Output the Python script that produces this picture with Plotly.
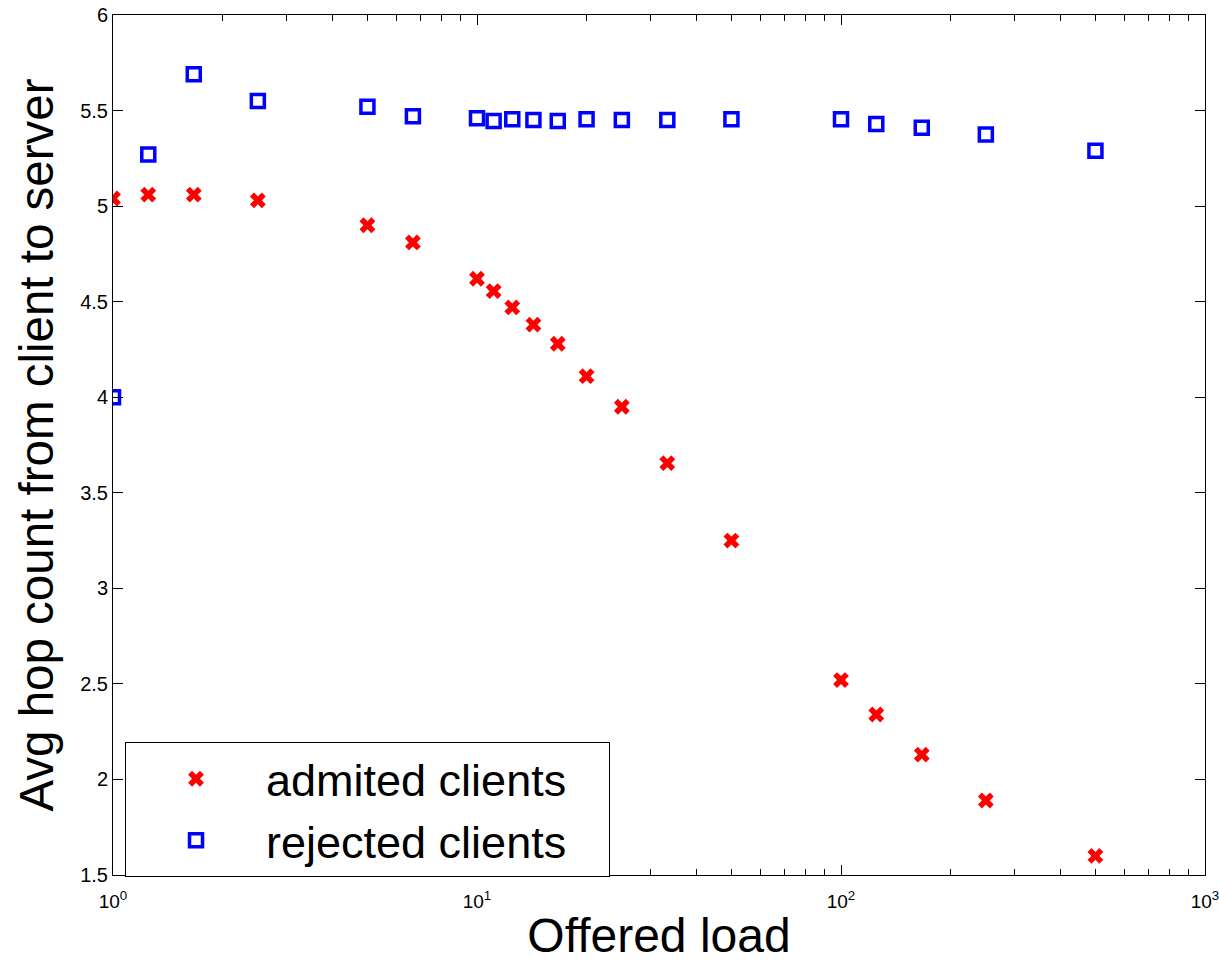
import plotly.graph_objects as go

offered_load = [1, 1.25, 1.667, 2.5, 5, 6.667, 10, 11.11, 12.5, 14.29, 16.67, 20, 25, 33.33, 50, 100, 125, 166.7, 250, 500]
admitted = [5.04, 5.06, 5.06, 5.03, 4.90, 4.81, 4.62, 4.555, 4.47, 4.38, 4.28, 4.11, 3.95, 3.655, 3.25, 2.52, 2.34, 2.13, 1.89, 1.60]
rejected = [4.00, 5.27, 5.69, 5.55, 5.52, 5.47, 5.46, 5.445, 5.455, 5.45, 5.445, 5.455, 5.45, 5.45, 5.455, 5.455, 5.43, 5.41, 5.375, 5.29]

x_tickvals = [1, 10, 100, 1000]
x_ticktext = ["10<sup>0</sup>", "10<sup>1</sup>", "10<sup>2</sup>", "10<sup>3</sup>"]
x_minor = [m * d for d in (1, 10, 100) for m in range(2, 10)]
y_tickvals = [1.5, 2, 2.5, 3, 3.5, 4, 4.5, 5, 5.5, 6]
y_ticktext = ["1.5", "2", "2.5", "3", "3.5", "4", "4.5", "5", "5.5", "6"]

font = "Liberation Sans, Arial, sans-serif"
pad = "\u00a0\u00a0\u00a0"

fig = go.Figure()
fig.add_trace(go.Scatter(
    x=offered_load, y=admitted, mode="markers", name="admited clients" + pad,
    marker=dict(symbol="x", size=14, color="#ff0000", line=dict(width=0)),
))
fig.add_trace(go.Scatter(
    x=offered_load, y=rejected, mode="markers", name="rejected clients" + pad,
    marker=dict(symbol="square-open", size=13, color="#0000ff", line=dict(width=3.5, color="#0000ff")),
))

fig.update_layout(
    width=1219, height=962,
    margin=dict(l=113, r=14, t=15, b=87),
    plot_bgcolor="white", paper_bgcolor="white",
    font=dict(family=font, color="black", size=18),
    showlegend=True,
    legend=dict(
        x=0.011, y=0.1547, xanchor="left", yanchor="top",
        bordercolor="black", borderwidth=1, bgcolor="white",
        font=dict(size=45, family=font),
        itemwidth=130, tracegroupgap=0,
    ),
    xaxis=dict(
        type="log", range=[0, 3], automargin=False,
        tickvals=x_tickvals, ticktext=x_ticktext, ticklabeloverflow="allow",
        ticks="inside", ticklen=10, tickcolor="black", tickwidth=1,
        minor=dict(tickvals=x_minor, ticks="inside", ticklen=6, tickcolor="black", tickwidth=1, showgrid=False),
        showline=True, linecolor="black", linewidth=1, mirror="allticks",
        showgrid=False, zeroline=False,
        tickfont=dict(size=19), ticklabelstandoff=9,
        title=dict(text="Offered load", font=dict(size=48), standoff=14),
    ),
    yaxis=dict(
        range=[1.5, 6], automargin=False,
        tickvals=y_tickvals, ticktext=y_ticktext, ticklabeloverflow="allow",
        ticks="inside", ticklen=10, tickcolor="black", tickwidth=1,
        showline=True, linecolor="black", linewidth=1, mirror="allticks",
        showgrid=False, zeroline=False,
        tickfont=dict(size=20),
        title=dict(text="Avg hop count from client to server", font=dict(size=47.5), standoff=11),
    ),
)

fig.write_html(
    "out.html",
    config={"displayModeBar": False},
    post_script="document.body.style.margin='0';document.body.style.overflow='hidden';",
)
